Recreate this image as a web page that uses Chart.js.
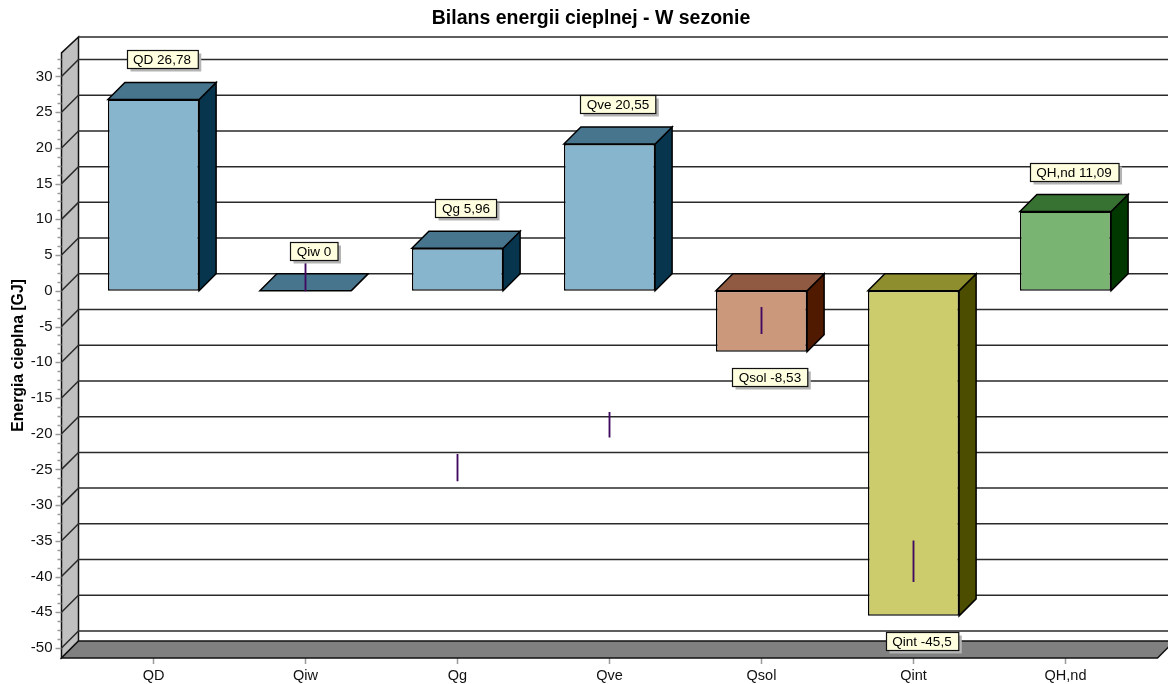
<!DOCTYPE html>
<html>
<head>
<meta charset="utf-8">
<title>Bilans energii cieplnej</title>
<script src="https://cdn.jsdelivr.net/npm/chart.js@4"></script>
<style>
    html, body { margin: 0; padding: 0; background: #fff; overflow: hidden; }
    #wrap { width: 1168px; height: 684px; overflow: hidden; }
    canvas { display: block; }
</style>
</head>
<body>
<div id="wrap"><canvas id="bilans" width="1182" height="684"></canvas></div>
<script>
    const categories = ['QD', 'Qiw', 'Qg', 'Qve', 'Qsol', 'Qint', 'QH,nd'];
    const energy = [26.78, 0, 5.96, 20.55, -8.53, -45.5, 11.09];
    // thin marks drawn over the bars
    const whiskers = [null, [0, 3.86], [-26.6, -22.9], [-20.5, -17], [-6, -2.3], [-40.7, -35], null];

    const frontColors = ['#87b5ce', '#87b5ce', '#87b5ce', '#87b5ce', '#cc987c', '#cccc6c', '#79b473'];
    const topColors = ['#48758e', '#48758e', '#48758e', '#48758e', '#905a42', '#8e8e2e', '#377232'];
    const sideColors = ['#07354e', '#07354e', '#07354e', '#07354e', '#4f1a00', '#4d4d00', '#003800'];

    const depth = 17;
    const fontFamily = '"Liberation Sans", Arial, sans-serif';

    function poly(ctx, pts, fill, stroke) {
        ctx.beginPath();
        pts.forEach((p, i) => i ? ctx.lineTo(p[0], p[1]) : ctx.moveTo(p[0], p[1]));
        ctx.closePath();
        if (fill) { ctx.fillStyle = fill; ctx.fill(); }
        if (stroke) { ctx.strokeStyle = stroke; ctx.stroke(); }
    }

    // back wall, left wall, floor and the grid
    const roomPlugin = {
        id: 'room',
        beforeDatasetsDraw(chart) {
            const ctx = chart.ctx;
            const y = chart.scales.y;
            const area = chart.chartArea;
            const left = area.left - 16;
            const right = chart.width;
            const floorRight = area.right + 16;
            ctx.save();
            ctx.lineWidth = 1.5;

            poly(ctx, [[left, area.top], [left + depth, area.top - depth + 1], [left + depth, area.bottom - depth], [left, area.bottom]], '#c0c0c0', '#111');

            // minor ticks every 1.25 units
            ctx.strokeStyle = '#999';
            for (let v = -50; v <= 32.5; v += 1.25) {
                const py = Math.round(y.getPixelForValue(v)) + 0.5;
                const major = v % 5 === 0;
                ctx.beginPath();
                ctx.moveTo(left - (major ? 6 : 4), py);
                ctx.lineTo(left, py);
                ctx.stroke();
            }

            // grid lines run along the back wall, with a diagonal on the left wall
            ctx.strokeStyle = '#2a2a2a';
            y.ticks.forEach(t => {
                const py = y.getPixelForValue(t.value);
                ctx.beginPath();
                ctx.moveTo(left, py);
                ctx.lineTo(left + depth, py - depth);
                ctx.lineTo(right, py - depth);
                ctx.stroke();
            });
            ctx.beginPath();
            ctx.moveTo(left + depth, area.top - depth + 1);
            ctx.lineTo(right, area.top - depth + 1);
            ctx.stroke();

            poly(ctx, [[left, area.bottom], [left + depth, area.bottom - depth], [floorRight + depth, area.bottom - depth], [floorRight, area.bottom]], '#808080', '#111');

            // top and side faces of the bars
            const bars = chart.getDatasetMeta(0).data;
            bars.forEach((bar, i) => {
                const p = bar.getProps(['x', 'y', 'base', 'width'], true);
                const x0 = p.x - p.width / 2;
                const x1 = p.x + p.width / 2;
                const top = Math.min(p.y, p.base);
                const bottom = Math.max(p.y, p.base);
                poly(ctx, [[x1, top], [x1 + depth, top - depth], [x1 + depth, bottom - depth], [x1, bottom]], sideColors[i], '#000');
                poly(ctx, [[x0, top], [x0 + depth, top - depth], [x1 + depth, top - depth], [x1, top]], topColors[i], '#000');
            });
            ctx.restore();
        },
        afterDatasetsDraw(chart) {
            const ctx = chart.ctx;
            ctx.save();
            ctx.font = '13.5px ' + fontFamily;
            ctx.textAlign = 'center';
            ctx.textBaseline = 'middle';
            chart.getDatasetMeta(0).data.forEach((bar, i) => {
                const p = bar.getProps(['x', 'y', 'base'], true);
                const text = categories[i] + ' ' + String(energy[i]).replace('.', ',');
                const w = ctx.measureText(text).width + 13;
                const h = 18;
                const cx = p.x + depth / 2;
                const boxTop = energy[i] < 0 ? p.y + 16.5 : p.y - depth - 14 - h;
                const bx = Math.round(cx - w / 2) + 0.5;
                const by = Math.round(boxTop) + 0.5;
                ctx.fillStyle = '#b4b4b4';
                ctx.fillRect(bx + 3, by + 3, w, h);
                ctx.fillStyle = '#ffffe0';
                ctx.strokeStyle = '#111';
                ctx.lineWidth = 1.2;
                ctx.fillRect(bx, by, w, h);
                ctx.strokeRect(bx, by, w, h);
                ctx.fillStyle = '#000';
                ctx.fillText(text, cx, by + h / 2 + 0.5);
            });
            ctx.restore();
        }
    };

    new Chart(document.getElementById('bilans'), {
        type: 'bar',
        plugins: [roomPlugin],
        data: {
            labels: categories,
            datasets: [
                {
                    data: energy,
                    grouped: false,
                    order: 2,
                    categoryPercentage: 1,
                    barPercentage: 0.6,
                    backgroundColor: frontColors,
                    borderColor: '#000',
                    borderWidth: 1.5,
                    borderSkipped: false
                },
                {
                    data: whiskers,
                    grouped: false,
                    order: 1,
                    barThickness: 1.2,
                    backgroundColor: '#400a60'
                }
            ]
        },
        options: {
            responsive: false,
            animation: false,
            // the tick labels sit lower than the default box height allows
            layout: { padding: { bottom: -5 } },
            plugins: {
                legend: { display: false },
                tooltip: { enabled: false },
                title: {
                    display: true,
                    text: 'Bilans energii cieplnej - W sezonie',
                    color: '#000',
                    font: { family: fontFamily, size: 19.5, weight: 'bold', lineHeight: 1.2 },
                    padding: { top: 6.5, bottom: 23 }
                }
            },
            scales: {
                x: {
                    offset: true,
                    grid: { offset: false, drawOnChartArea: false, tickLength: 6, color: '#999', tickColor: '#999', tickWidth: 1.5 },
                    border: { display: false },
                    ticks: { color: '#111', font: { family: fontFamily, size: 14.5 }, padding: 3, maxRotation: 0 }
                },
                y: {
                    min: -51.4,
                    max: 33.3,
                    grid: { display: false },
                    border: { display: false },
                    ticks: { stepSize: 5, includeBounds: false, color: '#111', font: { family: fontFamily, size: 15 }, padding: 17 },
                    title: {
                        display: true,
                        text: 'Energia cieplna [GJ]',
                        color: '#000',
                        font: { family: fontFamily, size: 15.8, weight: 'bold' },
                        padding: { top: 9, bottom: 0 }
                    },
                    afterFit(scale) { scale.width = 77.5; }
                },
                // empty axis that reserves the strip right of the last category
                spare: {
                    position: 'right',
                    grid: { display: false },
                    border: { display: false },
                    ticks: { display: false },
                    afterFit(scale) { scale.width = 40.5; }
                }
            }
        }
    });
</script>
</body>
</html>
